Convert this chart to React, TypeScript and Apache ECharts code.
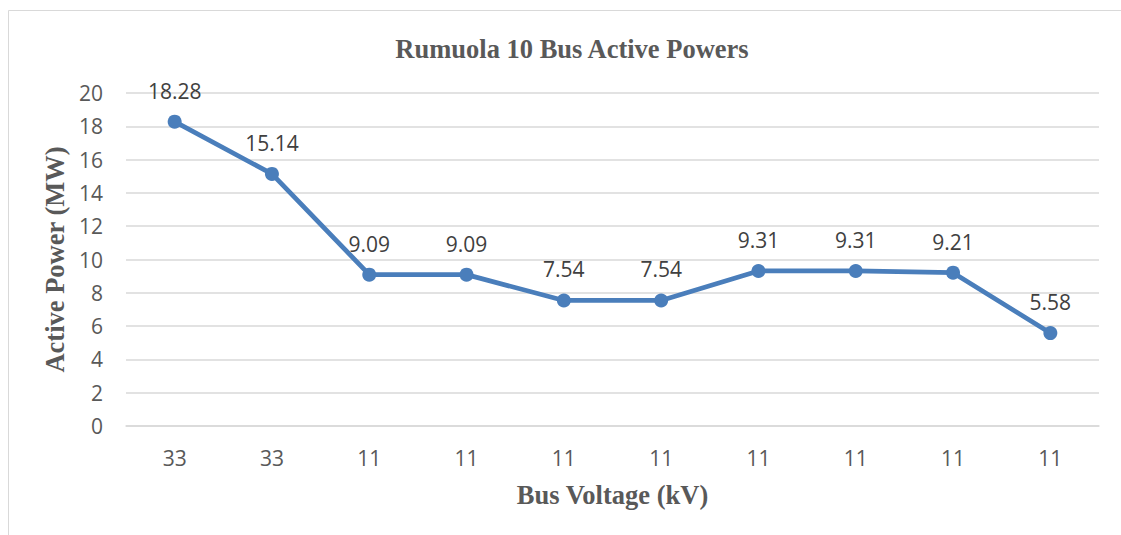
import React, { useEffect, useRef } from "react";
import * as echarts from "echarts";

const categories = ["33", "33", "11", "11", "11", "11", "11", "11", "11", "11"];
const activePower = [18.28, 15.14, 9.09, 9.09, 7.54, 7.54, 9.31, 9.31, 9.21, 5.58];
const yTicks = { min: 0, max: 20, interval: 2 };

export default function App() {
  const ref = useRef<HTMLDivElement>(null);
  useEffect(() => {
    const chart = echarts.init(ref.current!, null, { renderer: "svg" });
    const serifBold = {
      fontFamily: "Liberation Serif",
      fontWeight: "bold",
      fontSize: 26.5,
      color: "#595959",
    };
    chart.setOption({
      animation: false,
      backgroundColor: "#ffffff",
      graphic: [
        {
          type: "rect",
          shape: { x: 8.5, y: 10.5, width: 1130, height: 540 },
          style: { fill: "none", stroke: "#d9d9d9", lineWidth: 1 },
          silent: true,
        },
      ],
      title: {
        text: "Rumuola 10 Bus Active Powers",
        left: 567,
        top: 30,
        textAlign: "center",
        textStyle: serifBold,
      },
      grid: { left: 126, right: 22, top: 93, bottom: 109, containLabel: false },
      xAxis: {
        type: "category",
        data: categories,
        name: "Bus Voltage (kV)",
        nameLocation: "middle",
        nameGap: 55,
        nameTextStyle: serifBold,
        axisLine: { show: true, lineStyle: { color: "#d9d9d9", width: 1.5 } },
        axisTick: { show: false },
        axisLabel: { color: "#595959", fontSize: 21, fontFamily: "Open Sans", margin: 21 },
      },
      yAxis: {
        type: "value",
        min: yTicks.min,
        max: yTicks.max,
        interval: yTicks.interval,
        name: "Active Power (MW)",
        nameLocation: "middle",
        nameGap: 53,
        nameTextStyle: serifBold,
        axisLine: { show: false },
        axisTick: { show: false },
        axisLabel: { color: "#595959", fontSize: 21, fontFamily: "Open Sans", margin: 23 },
        splitLine: { lineStyle: { color: "#d9d9d9", width: 1.5 } },
      },
      series: [
        {
          type: "line",
          data: activePower,
          symbol: "circle",
          symbolSize: 14,
          lineStyle: { color: "#4a7ebb", width: 4.75 },
          itemStyle: { color: "#4a7ebb" },
          label: {
            show: true,
            position: "top",
            distance: 13.5,
            color: "#404040",
            fontSize: 21,
            fontFamily: "Open Sans",
            formatter: (p: any) => p.value.toFixed(2),
          },
        },
      ],
    });
    return () => chart.dispose();
  }, []);
  return (
    <div
      ref={ref}
      style={{ position: "absolute", left: 0, top: 0, width: 1121, height: 535 }}
    />
  );
}
